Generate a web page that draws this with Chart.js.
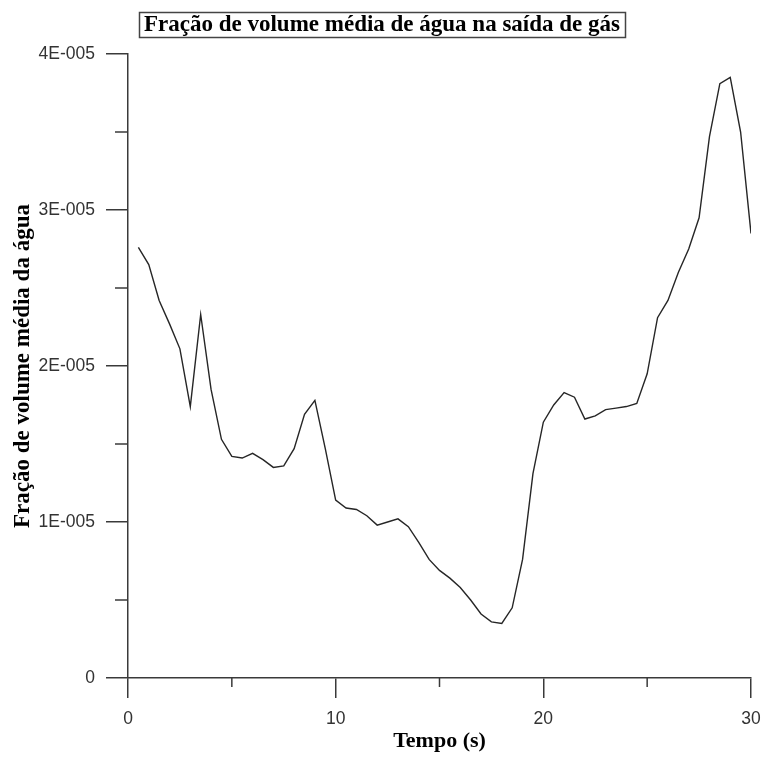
<!DOCTYPE html>
<html>
<head>
<meta charset="utf-8">
<script src="https://cdn.jsdelivr.net/npm/chart.js@4/dist/chart.umd.min.js"></script>
<style>
  html, body { margin: 0; padding: 0; background: #ffffff; }
  #wrap { width: 764px; height: 758px; }
</style>
</head>
<body>
<div id="wrap"><canvas id="c" width="764" height="758"></canvas></div>
<script>
const chartTitle = 'Fração de volume média de água na saída de gás';
const xTitle = 'Tempo (s)';
const yTitle = 'Fração de volume média da água';

const times = [0.5, 1.0, 1.5, 2.0, 2.5, 3.0, 3.5, 4.0, 4.5, 5.0,
               5.5, 6.0, 6.5, 7.0, 7.5, 8.0, 8.5, 9.0, 9.5, 10.0,
               10.5, 11.0, 11.5, 12.0, 12.5, 13.0, 13.5, 14.0, 14.5, 15.0,
               15.5, 16.0, 16.5, 17.0, 17.5, 18.0, 18.5, 19.0, 19.5, 20.0,
               20.5, 21.0, 21.5, 22.0, 22.5, 23.0, 23.5, 24.0, 24.5, 25.0,
               25.5, 26.0, 26.5, 27.0, 27.5, 28.0, 28.5, 29.0, 29.5, 30.0];

const waterFraction = [2.76e-5, 2.65e-5, 2.42e-5, 2.27e-5, 2.11e-5, 1.74e-5, 2.33e-5, 1.85e-5, 1.53e-5, 1.42e-5,
                       1.41e-5, 1.44e-5, 1.40e-5, 1.35e-5, 1.36e-5, 1.47e-5, 1.69e-5, 1.78e-5, 1.47e-5, 1.14e-5,
                       1.09e-5, 1.08e-5, 1.04e-5, 0.98e-5, 1.00e-5, 1.02e-5, 0.97e-5, 0.87e-5, 0.76e-5, 0.69e-5,
                       0.64e-5, 0.58e-5, 0.50e-5, 0.41e-5, 0.36e-5, 0.35e-5, 0.45e-5, 0.76e-5, 1.31e-5, 1.64e-5,
                       1.75e-5, 1.83e-5, 1.80e-5, 1.66e-5, 1.68e-5, 1.72e-5, 1.73e-5, 1.74e-5, 1.76e-5, 1.95e-5,
                       2.31e-5, 2.42e-5, 2.60e-5, 2.75e-5, 2.95e-5, 3.47e-5, 3.81e-5, 3.85e-5, 3.50e-5, 2.85e-5];

const xMajorTicks = [0, 10, 20, 30];
const xMinorTicks = [5, 15, 25];
const yMajorTicks = [0, 1e-5, 2e-5, 3e-5, 4e-5];
const yMinorTicks = [0.5e-5, 1.5e-5, 2.5e-5, 3.5e-5];

const points = times.map((t, i) => ({ x: t, y: waterFraction[i] }));

const AXIS_COLOR = '#3a3a3a';
const LABEL_COLOR = '#333333';
const SERIF = '"Liberation Serif", "Times New Roman", serif';
const SANS = '"Liberation Sans", Arial, sans-serif';

const yLabel = v => {
  const n = Math.round(v / 1e-5);
  return n === 0 ? '0' : n + 'E-005';
};

const extrasPlugin = {
  id: 'extras',
  afterDraw(chart) {
    const ctx = chart.ctx;
    const xs = chart.scales.x, ys = chart.scales.y;
    ctx.save();
    ctx.strokeStyle = AXIS_COLOR;
    ctx.lineWidth = 1.5;
    // minor ticks
    xMinorTicks.forEach(v => {
      const px = xs.getPixelForValue(v);
      ctx.beginPath();
      ctx.moveTo(px, xs.top);
      ctx.lineTo(px, xs.top + 9);
      ctx.stroke();
    });
    yMinorTicks.forEach(v => {
      const py = ys.getPixelForValue(v);
      ctx.beginPath();
      ctx.moveTo(ys.right - 13, py);
      ctx.lineTo(ys.right, py);
      ctx.stroke();
    });
    // title box
    const tb = chart.titleBlock;
    ctx.font = 'bold 23px ' + SERIF;
    const w = ctx.measureText(chartTitle).width;
    const cx = (tb.left + tb.right) / 2;
    ctx.strokeStyle = '#444';
    ctx.lineWidth = 1.5;
    ctx.strokeRect(Math.round(cx - w / 2 - 5) + 0.5, 12.5, Math.round(w + 10), 25);
    ctx.restore();
  }
};

new Chart(document.getElementById('c'), {
  type: 'line',
  data: {
    datasets: [{
      data: points,
      borderColor: '#262626',
      borderWidth: 1.4,
      pointRadius: 0,
      tension: 0,
      fill: false
    }]
  },
  options: {
    responsive: false,
    animation: false,
    events: [],
    layout: { padding: { left: 0, right: 0, top: 0, bottom: 0 } },
    plugins: {
      legend: { display: false },
      tooltip: { enabled: false },
      title: {
        display: true,
        text: chartTitle,
        color: '#000',
        font: { family: SERIF, size: 23, weight: 'bold', lineHeight: 1.2 },
        padding: { top: 11, bottom: 15.4 }
      }
    },
    scales: {
      x: {
        type: 'linear',
        min: 0,
        max: 30,
        afterBuildTicks: s => { s.ticks = xMajorTicks.map(v => ({ value: v })); },
        afterFit: s => { s.height = 80; s.paddingRight = 13; },
        ticks: {
          color: LABEL_COLOR,
          padding: 11,
          maxRotation: 0,
          font: { family: SANS, size: 17.5 },
          callback: v => String(v)
        },
        grid: { display: true, drawOnChartArea: false, drawTicks: true, tickLength: 20, color: AXIS_COLOR, lineWidth: 1.5 },
        border: { display: true, color: AXIS_COLOR, width: 1.5 },
        title: {
          display: true,
          text: xTitle,
          color: '#000',
          font: { family: SERIF, size: 22, weight: 'bold', lineHeight: 1.2 },
          padding: { top: 0, bottom: 3 }
        }
      },
      y: {
        type: 'linear',
        min: 0,
        max: 4e-5,
        afterBuildTicks: s => { s.ticks = yMajorTicks.map(v => ({ value: v })); },
        afterFit: s => { s.width = 128; },
        ticks: {
          color: LABEL_COLOR,
          padding: 11,
          font: { family: SANS, size: 17.5 },
          callback: v => yLabel(v)
        },
        grid: { display: true, drawOnChartArea: false, drawTicks: true, tickLength: 22, color: AXIS_COLOR, lineWidth: 1.5 },
        border: { display: true, color: AXIS_COLOR, width: 1.5 },
        title: {
          display: true,
          text: yTitle,
          color: '#000',
          font: { family: SERIF, size: 23, weight: 'bold', lineHeight: 1.2 },
          padding: { top: 9, bottom: 0 }
        }
      }
    }
  },
  plugins: [extrasPlugin]
});
</script>
</body>
</html>
